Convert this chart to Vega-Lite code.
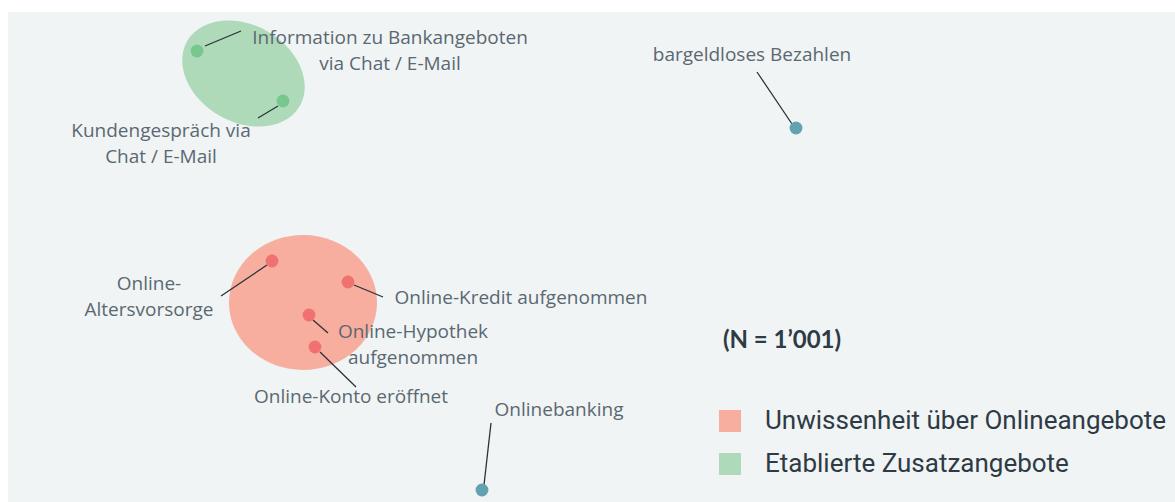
{
  "$schema": "https://vega.github.io/schema/vega-lite/v6.json",
  "width": 1167,
  "height": 490,
  "autosize": "none",
  "padding": {"left": 8, "top": 12, "right": 0, "bottom": 0},
  "background": "#ffffff",
  "config": {"view": {"stroke": null, "fill": "#f0f4f5"}},
  "datasets": {
    "clusters": [
      {"group": "Unwissenheit über Onlineangebote", "x": 295, "y": 199.5},
      {"group": "Etablierte Zusatzangebote", "x": 235.5, "y": 428.5}
    ],
    "items": [
      {"item": "Information zu Bankangeboten via Chat / E-Mail", "type": "Etabliert", "x": 189, "y": 451, "lx": 382, "ly": 464, "label": ["Information zu Bankangeboten", "via Chat / E-Mail"], "x1": 197, "y1": 456, "x2": 233, "y2": 471},
      {"item": "Kundengespräch via Chat / E-Mail", "type": "Etabliert", "x": 275, "y": 401, "lx": 153, "ly": 371, "label": ["Kundengespräch via", "Chat / E-Mail"], "x1": 270, "y1": 396, "x2": 250, "y2": 384},
      {"item": "bargeldloses Bezahlen", "type": "Sonstige", "x": 788, "y": 374, "lx": 744, "ly": 447, "label": ["bargeldloses Bezahlen"], "x1": 749, "y1": 430, "x2": 784, "y2": 378},
      {"item": "Online-Altersvorsorge", "type": "Unwissenheit", "x": 264, "y": 241, "lx": 141, "ly": 218, "label": ["Online-", "Altersvorsorge"], "x1": 259, "y1": 237, "x2": 213, "y2": 206},
      {"item": "Online-Kredit aufgenommen", "type": "Unwissenheit", "x": 340, "y": 220, "lx": 513, "ly": 204, "label": ["Online-Kredit aufgenommen"], "x1": 346, "y1": 217, "x2": 375, "y2": 205},
      {"item": "Online-Hypothek aufgenommen", "type": "Unwissenheit", "x": 301, "y": 187, "lx": 405, "ly": 170, "label": ["Online-Hypothek", "aufgenommen"], "x1": 305, "y1": 182, "x2": 320, "y2": 169},
      {"item": "Online-Konto eröffnet", "type": "Unwissenheit", "x": 307, "y": 155, "lx": 343, "ly": 105, "label": ["Online-Konto eröffnet"], "x1": 312, "y1": 150, "x2": 348, "y2": 115},
      {"item": "Onlinebanking", "type": "Sonstige", "x": 474, "y": 12, "lx": 551, "ly": 92, "label": ["Onlinebanking"], "x1": 483, "y1": 79, "x2": 476, "y2": 17}
    ],
    "note": [{"x": 774, "y": 161, "text": "(N = 1’001)"}]
  },
  "encoding": {
    "x": {"type": "quantitative", "scale": {"domain": [0, 1167], "nice": false, "zero": false}, "axis": null},
    "y": {"type": "quantitative", "scale": {"domain": [0, 490], "nice": false, "zero": false}, "axis": null}
  },
  "layer": [
    {
      "data": {"name": "clusters"},
      "transform": [{"filter": "datum.group === 'Unwissenheit über Onlineangebote'"}],
      "mark": {"type": "point", "filled": true, "opacity": 1, "strokeWidth": 0, "size": 21904, "shape": "M -1 0 A 1 0.912 0 1 1 1 0 A 1 0.912 0 1 1 -1 0 Z"},
      "encoding": {
        "x": {"field": "x", "type": "quantitative"},
        "y": {"field": "y", "type": "quantitative"},
        "color": {
          "field": "group", "type": "nominal",
          "scale": {"domain": ["Unwissenheit über Onlineangebote", "Etablierte Zusatzangebote"], "range": ["#f7ae9f", "#afdaba"]},
          "legend": {
            "title": null, "orient": "none", "legendX": 709, "legendY": 396,
            "symbolType": "square", "symbolSize": 484, "symbolStrokeWidth": 0, "symbolOpacity": 1,
            "labelFont": "Roboto", "labelFontSize": 26, "labelColor": "#2e3a44", "labelOffset": 22,
            "rowPadding": 17, "labelLimit": 500
          }
        }
      }
    },
    {
      "data": {"name": "clusters"},
      "transform": [{"filter": "datum.group === 'Etablierte Zusatzangebote'"}],
      "mark": {"type": "point", "filled": true, "opacity": 1, "strokeWidth": 0, "size": 21904, "shape": "M -0.7604 -0.439 A 0.878 0.655 30 1 1 0.7604 0.439 A 0.878 0.655 30 1 1 -0.7604 -0.439 Z"},
      "encoding": {
        "x": {"field": "x", "type": "quantitative"},
        "y": {"field": "y", "type": "quantitative"},
        "color": {"field": "group", "type": "nominal"}
      }
    },
    {
      "data": {"name": "items"},
      "mark": {"type": "rule", "color": "#2b3138", "strokeWidth": 1.3},
      "encoding": {
        "x": {"field": "x1", "type": "quantitative"},
        "y": {"field": "y1", "type": "quantitative"},
        "x2": {"field": "x2"},
        "y2": {"field": "y2"}
      }
    },
    {
      "data": {"name": "items"},
      "mark": {"type": "circle", "opacity": 1, "size": 165},
      "encoding": {
        "x": {"field": "x", "type": "quantitative"},
        "y": {"field": "y", "type": "quantitative"},
        "fill": {
          "field": "type", "type": "nominal",
          "scale": {"domain": ["Unwissenheit", "Etabliert", "Sonstige"], "range": ["#ef7270", "#78c78f", "#64a1b1"]},
          "legend": null
        }
      }
    },
    {
      "data": {"name": "items"},
      "mark": {"type": "text", "font": "Open Sans", "fontSize": 19, "color": "#5b6871", "align": "center", "baseline": "middle", "lineHeight": 26},
      "encoding": {
        "x": {"field": "lx", "type": "quantitative"},
        "y": {"field": "ly", "type": "quantitative"},
        "text": {"field": "label"}
      }
    },
    {
      "data": {"name": "note"},
      "mark": {"type": "text", "font": "Lato", "fontWeight": "bold", "fontSize": 24, "color": "#2e3a44", "align": "center", "baseline": "middle"},
      "encoding": {
        "x": {"field": "x", "type": "quantitative"},
        "y": {"field": "y", "type": "quantitative"},
        "text": {"field": "text"}
      }
    }
  ]
}
